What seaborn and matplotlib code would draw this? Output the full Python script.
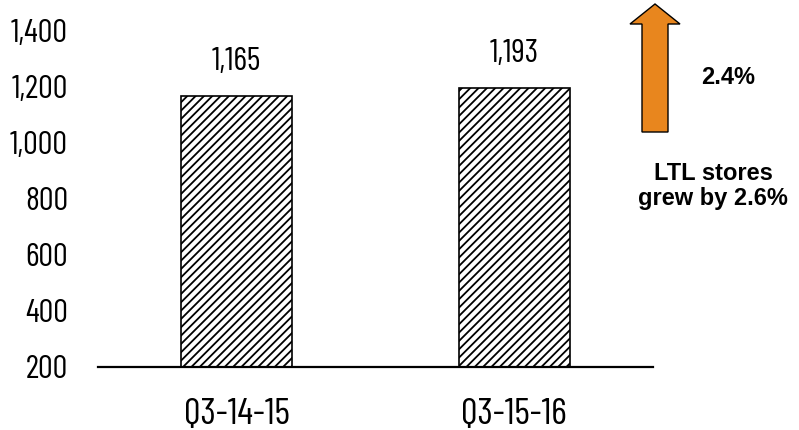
import matplotlib
matplotlib.use("Agg")
import matplotlib.pyplot as plt
import seaborn as sns
import pandas as pd
from matplotlib.patches import Polygon

# Quarterly values
quarters = ["Q3-14-15", "Q3-15-16"]
values = [1165, 1193]
y_ticks = [200, 400, 600, 800, 1000, 1200, 1400]
growth_label = "2.4%"
note_label = "LTL stores\ngrew by 2.6%"

sns.set_theme(style="white")
plt.rcParams["font.family"] = ["Barlow Condensed", "DejaVu Sans"]
plt.rcParams["hatch.linewidth"] = 1.3
plt.rcParams["hatch.color"] = "#333333"
bold_font = ["Liberation Sans", "DejaVu Sans"]

W, H = 799, 430
fig = plt.figure(figsize=(W / 100, H / 100), dpi=100)
ax = fig.add_axes([98 / W, 1 - 367 / H, (653 - 98) / W, (367 - 30) / H])

df = pd.DataFrame({"quarter": quarters, "value": values})
sns.barplot(data=df, x="quarter", y="value", ax=ax, color="white",
            width=0.4, edgecolor="black", linewidth=1.2, saturation=1)
for p in ax.patches:
    p.set_hatch("////")
    p.set_facecolor("white")

ax.set_xlim(-0.5, 1.5)
ax.set_ylim(200, 1400)
ax.set_yticks(y_ticks)
ax.set_yticklabels([f"{t:,}" for t in y_ticks])
ax.set_xlabel("")
ax.set_ylabel("")
ax.tick_params(axis="y", length=0, pad=21.5, labelsize=23.5, labelcolor="black")
ax.tick_params(axis="x", length=0, pad=22, labelsize=27, labelcolor="black")

for side in ["left", "right", "top"]:
    ax.spines[side].set_visible(False)
ax.spines["bottom"].set_linewidth(1.6)
ax.spines["bottom"].set_color("black")

for i, v in enumerate(values):
    ax.annotate(f"{v:,}", xy=(i, v), xytext=(0, 19), textcoords="offset points",
                ha="center", va="baseline", fontsize=23.5, color="black")

# Growth arrow on the right
pts_px = [(642, 132), (642, 24), (630, 24), (655, 4), (680, 24), (668, 24), (668, 132)]
arrow = Polygon([(x / W, 1 - y / H) for x, y in pts_px], closed=True,
                transform=fig.transFigure, facecolor="#E8861E",
                edgecolor="black", linewidth=1.0)
fig.patches.append(arrow)

fig.text(728 / W, 1 - 77 / H, growth_label, ha="center", va="center",
         fontsize=17, fontweight="bold", family=bold_font, color="black")
fig.text(713 / W, 1 - 186 / H, note_label, ha="center", va="center",
         fontsize=17, fontweight="bold", family=bold_font, color="black",
         linespacing=1.15)

fig.savefig("out.png", dpi=100)
